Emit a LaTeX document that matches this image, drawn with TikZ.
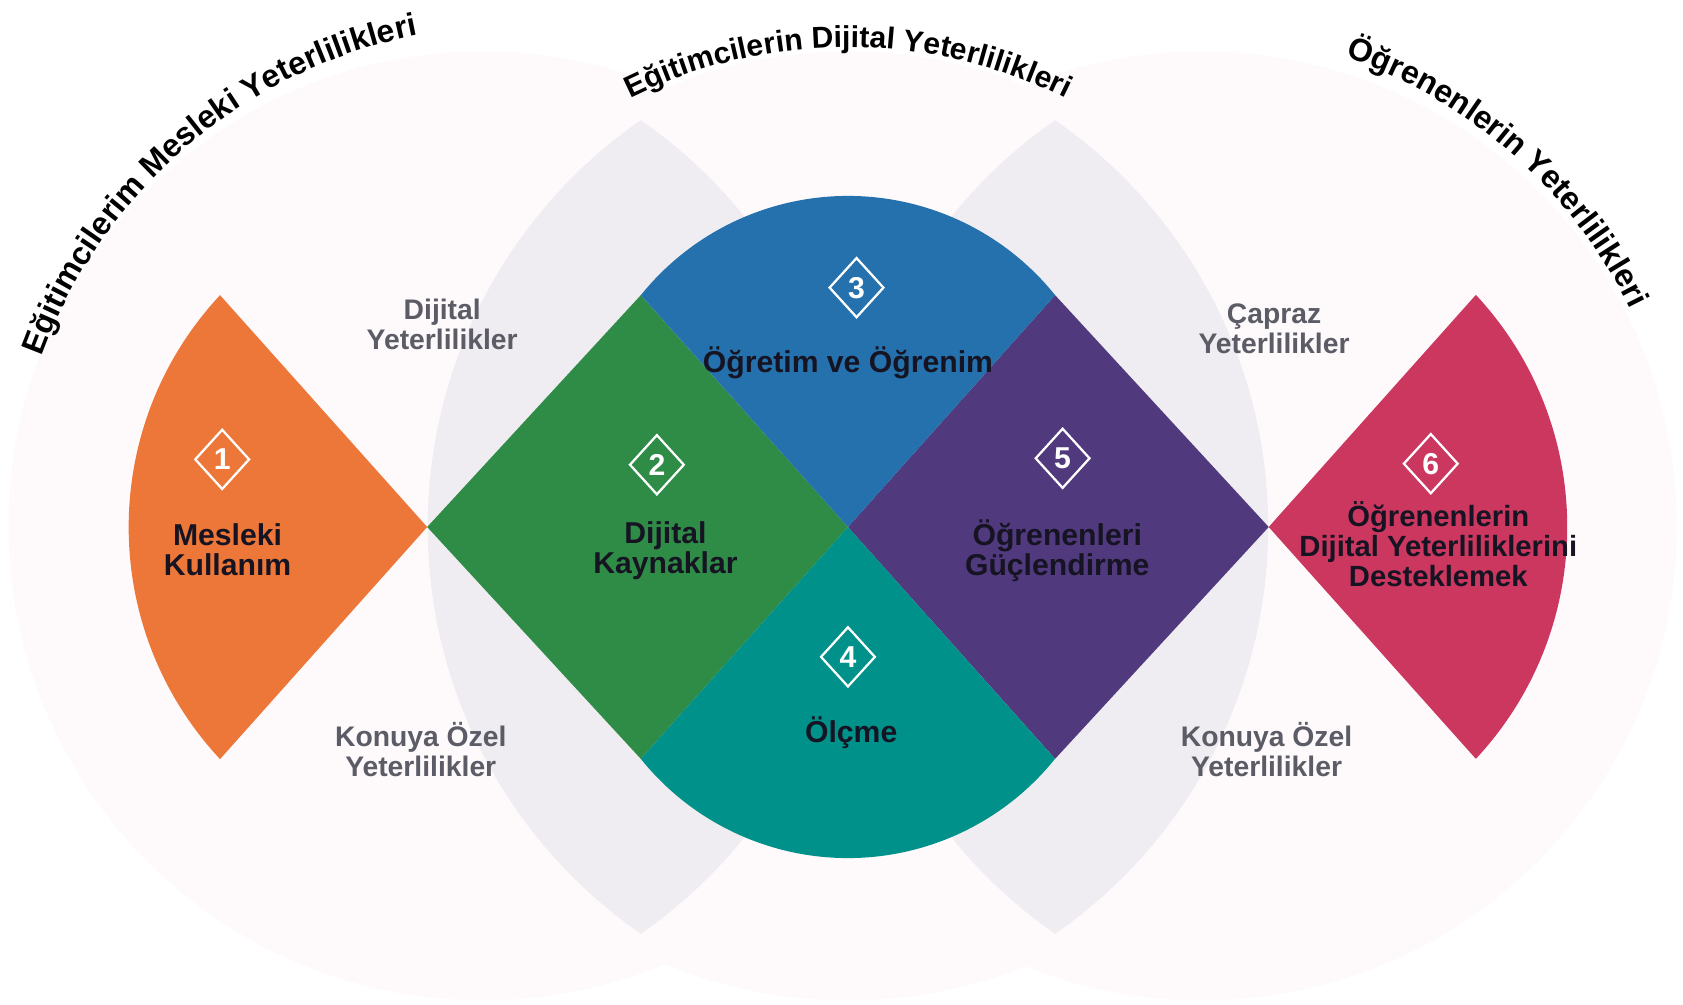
\documentclass[tikz,border=0pt]{standalone}
\usepackage{fontspec}
\setmainfont{Liberation Sans}
\usetikzlibrary{shapes.geometric,decorations.text}

\definecolor{mesleki}{RGB}{237,119,56}
\definecolor{kaynak}{RGB}{47,140,71}
\definecolor{ogretim}{RGB}{36,113,173}
\definecolor{olcme}{RGB}{0,145,138}
\definecolor{guclen}{RGB}{80,57,125}
\definecolor{destek}{RGB}{204,55,95}
\definecolor{mercek}{RGB}{239,237,241}
\definecolor{soluk}{RGB}{254,250,252}
\definecolor{koyu}{RGB}{22,20,34}
\definecolor{gri}{RGB}{92,92,102}

\newcommand\baslikfont{\bfseries\fontsize{17}{17}\selectfont}

\begin{document}
\begin{tikzpicture}[x=0.02cm,y=0.02cm,
  badge/.style={diamond,draw=white,line width=1.2pt,minimum width=1.02cm,minimum height=1.12cm,
    inner sep=0pt,text=white,font=\bfseries\fontsize{16}{16}\selectfont},
  alan/.style={align=center,text=koyu,font=\bfseries\fontsize{16}{16}\selectfont},
  ara/.style={align=center,text=gri,font=\bfseries\fontsize{15}{16}\selectfont}]

\useasboundingbox (0,0) rectangle (1568,936);
\fill[white] (0,0) rectangle (1568,936);

% soluk daireler
\foreach \cx in {450,790,1120} {
\fill[soluk] (\cx,446) circle (442);
}

% gri mercekler
\foreach \m in {597,983} {
\begin{scope}
\clip (\m-262.5,445) circle (461);
\fill[mercek] (\m+262.5,445) circle (461);
\end{scope}
}

\fill[kaynak] (398,445) -- (597,661) -- (790,445) -- (597,229) -- cycle;
\fill[guclen] (790,445) -- (983,661) -- (1182,445) -- (983,229) -- cycle;
\fill[ogretim] (983,661) arc[start angle=38.8,end angle=141.2,radius=247.6] -- (790,445) -- cycle;
\fill[olcme] (597,229) arc[start angle=-141.2,end angle=-38.8,radius=247.6] -- (790,445) -- cycle;
\fill[mesleki] (205,661) arc[start angle=137,end angle=223,radius=316.9] -- (398,445) -- cycle;
\fill[destek] (1375,229) arc[start angle=-43,end angle=43,radius=316.9] -- (1182,445) -- cycle;

% basliklar
\path[decorate,decoration={text along path,text align=center,
  text={|\baslikfont|Eğitimcilerim Mesleki Yeterlilikleri}}]
  (480,442) ++(170:470) arc[start angle=170,end angle=91,radius=470];
\path[decorate,decoration={text along path,text align=center,
  text={|\bfseries\fontsize{16}{16}\selectfont|Eğitimcilerin Dijital Yeterlilikleri}}]
  (790,436) ++(125:456) arc[start angle=125,end angle=55,radius=456];
\path[decorate,decoration={text along path,text align=center,
  text={|\baslikfont|Öğrenenlerin Yeterlilikleri}}]
  (1100,442) ++(92:467) arc[start angle=92,end angle=5,radius=467];

\foreach \n/\x/\y in {1/207/508,2/612/503,3/798/668,4/790/324,5/990/509,6/1333/504} {
\node[badge] (rozet\n) at (\x,\y) {\n};
}

\node[alan] (meslekiyazi) at (212,424) {Mesleki\\Kullanım};
\node[alan] (kaynakyazi) at (620,423) {Dijital\\Kaynaklar};
\node[alan] (ogretimyazi) at (790,598) {Öğretim ve Öğrenim};
\node[alan] (guclenyazi) at (985,423) {Öğrenenleri\\Güçlendirme};
\node[alan] (olcmeyazi) at (793,253) {Ölçme};
\node[alan,font=\bfseries\fontsize{15.5}{16}\selectfont] (destekyazi) at (1340,429)
  {Öğrenenlerin\\Dijital Yeterliliklerini\\Desteklemek};

\node[ara] (dijital) at (412,634) {Dijital\\Yeterlilikler};
\node[ara] (capraz) at (1187,630) {Çapraz\\Yeterlilikler};
\node[ara] (konuyasol) at (392,238) {Konuya Özel\\Yeterlilikler};
\node[ara] (konuyasag) at (1180,238) {Konuya Özel\\Yeterlilikler};
\end{tikzpicture}
\end{document}
